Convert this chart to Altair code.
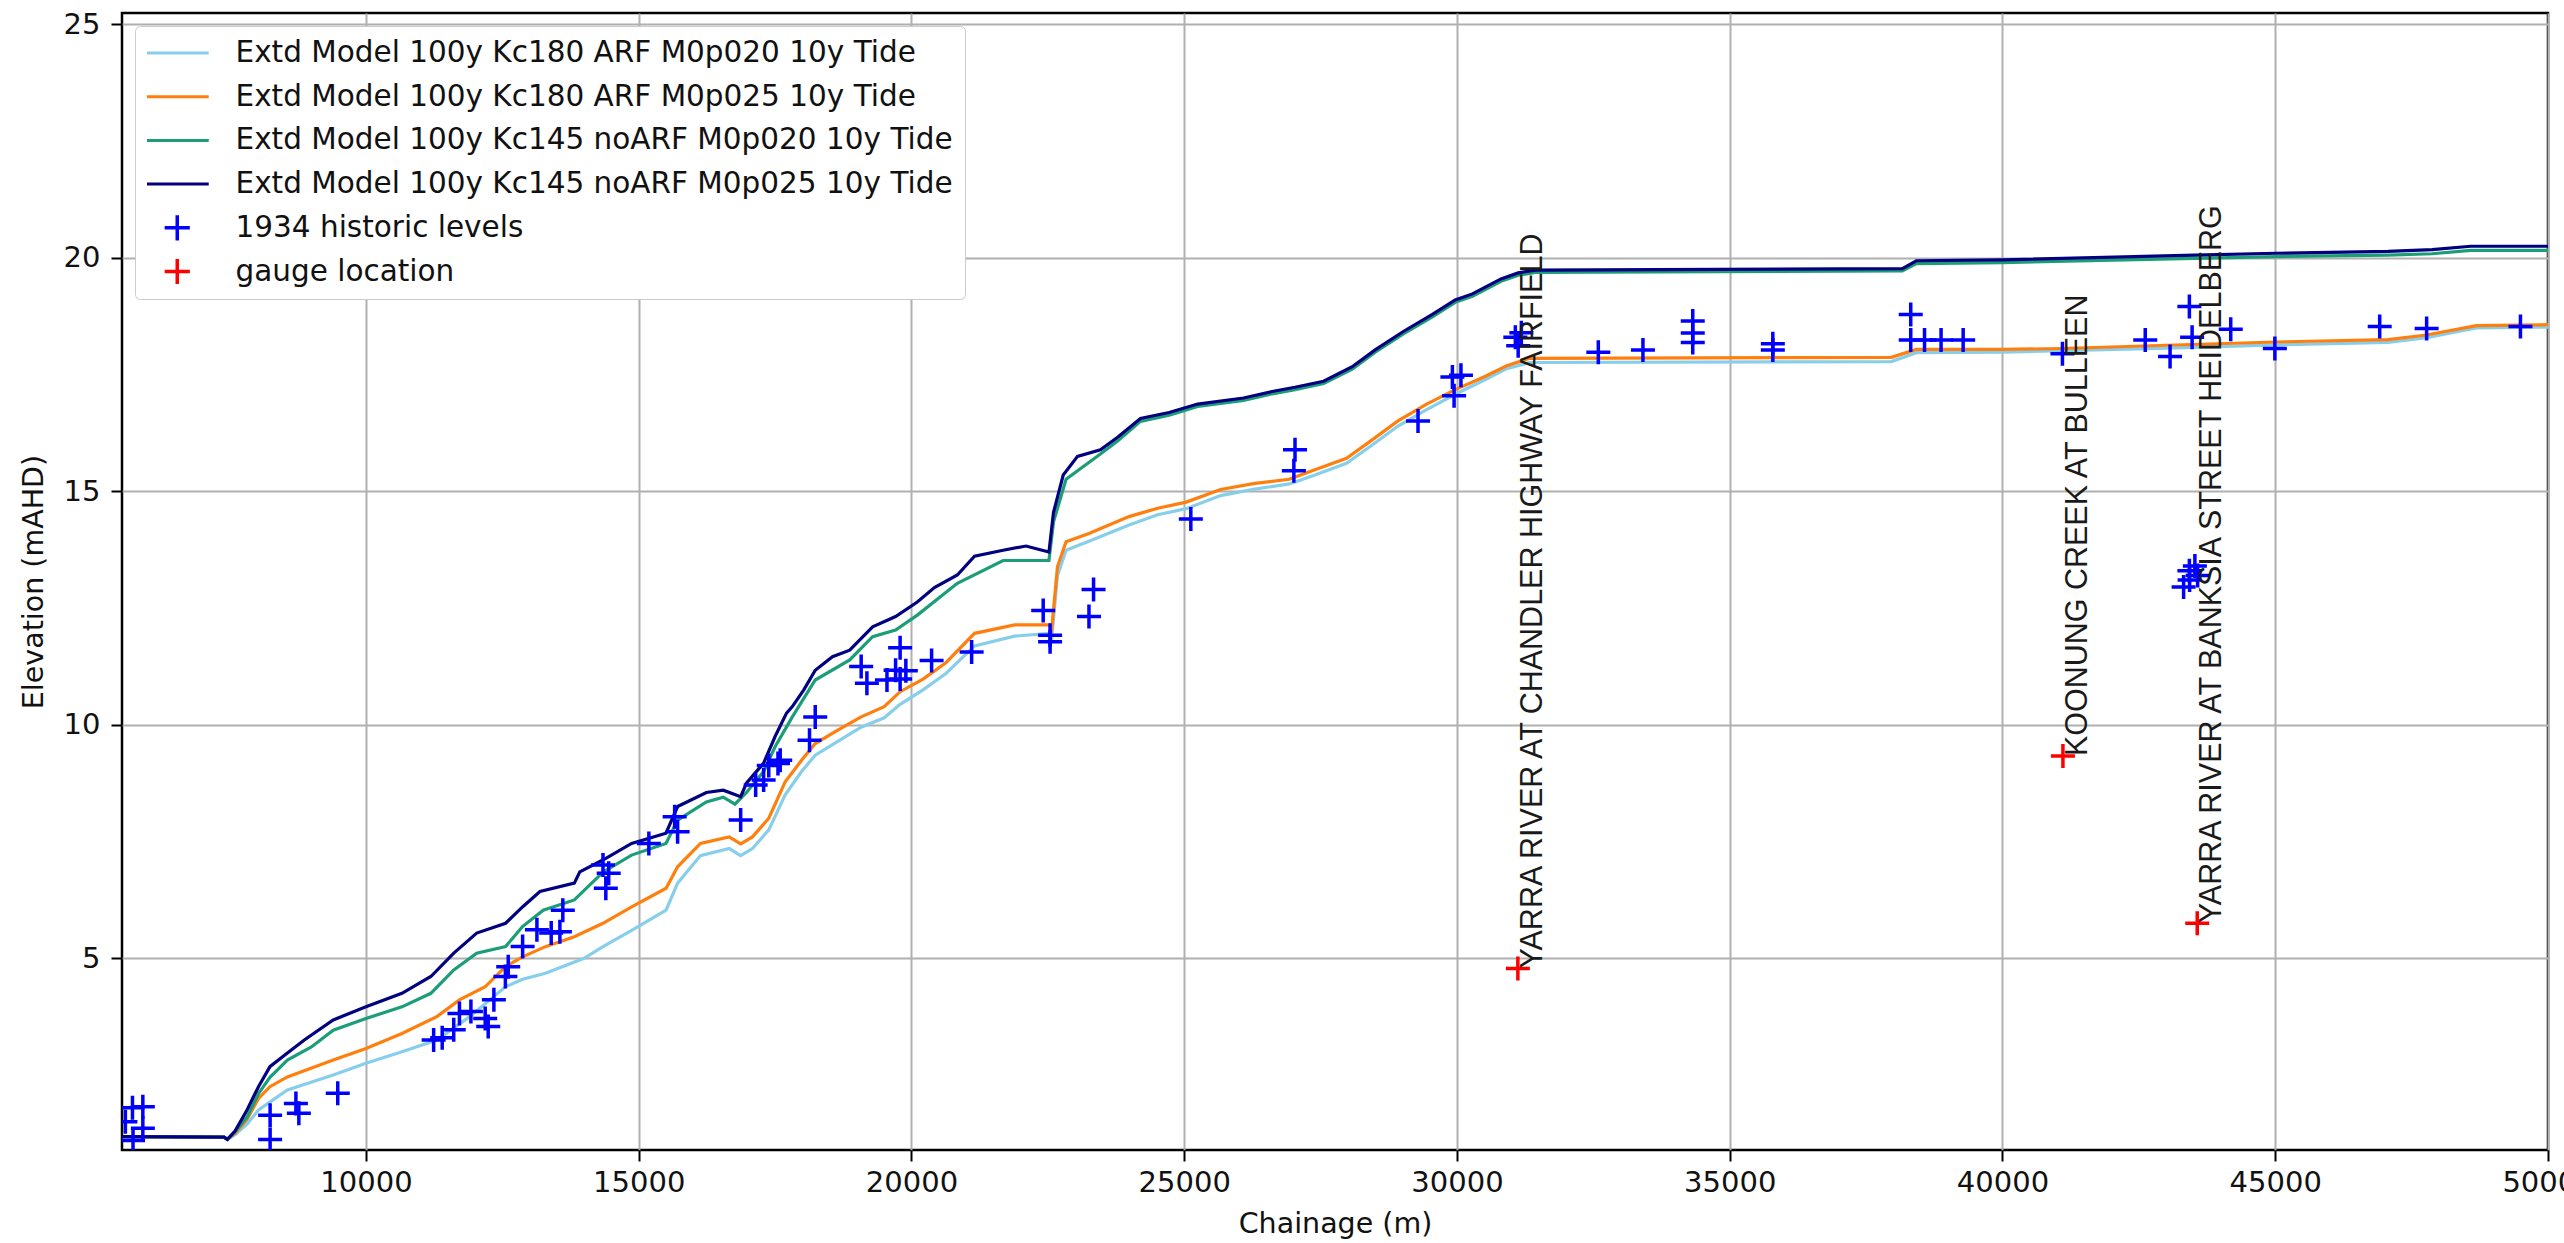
import altair as alt
import pandas as pd

S1 = "Extd Model 100y Kc180 ARF M0p020 10y Tide"
S2 = "Extd Model 100y Kc180 ARF M0p025 10y Tide"
S3 = "Extd Model 100y Kc145 noARF M0p020 10y Tide"
S4 = "Extd Model 100y Kc145 noARF M0p025 10y Tide"
H = "1934 historic levels"
G = "gauge location"

SERIES = [S1, S2, S3, S4, H, G]
COLORS = ["#87ceeb", "#ff7f0e", "#1b9e77", "#000080", "#0000ff", "#ff0000"]

# Kc145 noARF M0p025 (navy)
x_s4 = [5528, 7400, 7460, 7600, 7820, 8030, 8240, 8560, 8870, 9400, 10000, 10660, 11190, 11610,
        12030, 12560, 12870, 13190, 13820, 13920, 14350, 14870, 15500, 15713, 16240, 16550, 16870,
        16975, 17290, 17500, 17710, 17816, 18026, 18236, 18552, 18868, 19288, 19709, 20107, 20421,
        20841, 21156, 21680, 22100, 22520, 22604, 22782, 23044, 23464, 23779, 24198, 24723, 25247,
        26087, 26611, 27031, 27555, 28080, 28500, 29024, 29549, 29968, 30283, 30807, 31122, 31437,
        38166, 38420, 40000, 43527, 45014, 47067, 47876, 48584, 50000]
y_s4 = [1.18, 1.17, 1.12, 1.30, 1.75, 2.25, 2.68, 2.97, 3.25, 3.68, 3.96, 4.25, 4.61, 5.11,
        5.54, 5.75, 6.10, 6.43, 6.61, 6.85, 7.11, 7.46, 7.68, 8.25, 8.55, 8.60, 8.46,
        8.75, 9.18, 9.75, 10.25, 10.39, 10.75, 11.17, 11.46, 11.60, 12.10, 12.32, 12.63, 12.94,
        13.21, 13.61, 13.74, 13.83, 13.70, 14.55, 15.35, 15.75, 15.89, 16.16, 16.56, 16.69, 16.87,
        17.00, 17.14, 17.23, 17.36, 17.67, 18.03, 18.43, 18.79, 19.10, 19.23, 19.55, 19.68, 19.74,
        19.77, 19.94, 19.96, 20.06, 20.10, 20.14, 20.18, 20.25, 20.25]

# Kc145 noARF M0p020 (green)
x_s3 = [5528, 7400, 7460, 7600, 7820, 8030, 8240, 8560, 9000, 9400, 10000, 10660, 11190, 11610,
        12030, 12560, 12870, 13250, 13820, 14350, 14870, 15500, 15713, 16240, 16550, 16764, 16975,
        17290, 17500, 17816, 18236, 18868, 19288, 19709, 20107, 20841, 21680, 22520, 22604, 22834,
        23464, 23779, 24198, 24723, 25247, 26087, 26611, 27031, 27555, 28080, 28500, 29024, 29549,
        29968, 30283, 30807, 31122, 31437, 38166, 38420, 40000, 43527, 45014, 47067, 47876, 48584, 50000]
y_s3 = [1.18, 1.17, 1.12, 1.28, 1.60, 2.10, 2.45, 2.82, 3.10, 3.46, 3.71, 3.96, 4.25, 4.75,
        5.11, 5.25, 5.68, 6.03, 6.25, 6.85, 7.21, 7.46, 7.96, 8.35, 8.45, 8.30, 8.55,
        9.00, 9.53, 10.17, 10.96, 11.39, 11.89, 12.03, 12.35, 13.03, 13.52, 13.52, 14.35, 15.26,
        15.80, 16.08, 16.50, 16.63, 16.82, 16.95, 17.09, 17.18, 17.31, 17.62, 17.98, 18.38, 18.74,
        19.05, 19.18, 19.50, 19.63, 19.69, 19.72, 19.88, 19.90, 19.99, 20.03, 20.06, 20.09, 20.16, 20.16]

# Kc180 ARF M0p025 (orange)
x_s2 = [5528, 7400, 7460, 7600, 7820, 8030, 8240, 8560, 9400, 10000, 10660, 11300, 11714, 12186,
        12556, 12872, 13290, 13819, 14345, 14871, 15502, 15713, 16132, 16658, 16869, 17085, 17385,
        17685, 17985, 18236, 18657, 19078, 19500, 19792, 20212, 20631, 21156, 21890, 22520, 22570,
        22677, 22834, 23254, 23988, 24513, 25037, 25667, 26296, 26926, 27346, 27975, 28395, 28919,
        29444, 29968, 30493, 30913, 31332, 37964, 38420, 40000, 41100, 43021, 45014, 47067, 47775,
        48685, 50000]
y_s2 = [1.18, 1.17, 1.12, 1.25, 1.55, 2.00, 2.25, 2.46, 2.82, 3.07, 3.39, 3.75, 4.11, 4.39,
        4.82, 5.03, 5.25, 5.46, 5.75, 6.10, 6.50, 6.96, 7.46, 7.60, 7.45, 7.60, 8.00,
        8.78, 9.24, 9.60, 9.89, 10.17, 10.39, 10.71, 10.98, 11.33, 11.96, 12.14, 12.14, 12.05,
        13.39, 13.92, 14.10, 14.46, 14.64, 14.77, 15.04, 15.17, 15.26, 15.44, 15.71, 16.06, 16.51,
        16.87, 17.18, 17.45, 17.69, 17.85, 17.87, 18.04, 18.04, 18.06, 18.13, 18.20, 18.25, 18.35,
        18.55, 18.57]

# Kc180 ARF M0p020 (light blue)
x_s1 = [5528, 7400, 7460, 7600, 7820, 8030, 8560, 9400, 10000, 10660, 11300, 11900, 12556, 12872,
        13290, 14000, 14345, 14871, 15502, 15713, 16132, 16658, 16869, 17085, 17385, 17685, 17985,
        18236, 18657, 19078, 19500, 19792, 20212, 20631, 21156, 21890, 22520, 22570, 22677, 22834,
        23254, 23988, 24513, 25037, 25667, 26296, 26926, 27346, 27975, 28395, 28919, 29444, 29968,
        30493, 30913, 31332, 37964, 38420, 40000, 43021, 45014, 47067, 47775, 48685, 50000]
y_s1 = [1.18, 1.17, 1.12, 1.22, 1.45, 1.75, 2.18, 2.50, 2.75, 3.00, 3.25, 3.75, 4.39, 4.55,
        4.68, 5.00, 5.25, 5.60, 6.03, 6.61, 7.20, 7.35, 7.20, 7.35, 7.75, 8.50, 9.00,
        9.35, 9.65, 9.95, 10.15, 10.44, 10.75, 11.10, 11.69, 11.90, 11.96, 11.85, 13.20, 13.74,
        13.93, 14.28, 14.50, 14.63, 14.91, 15.05, 15.16, 15.33, 15.60, 15.95, 16.40, 16.75, 17.08,
        17.38, 17.63, 17.76, 17.78, 17.97, 17.98, 18.07, 18.14, 18.19, 18.29, 18.50, 18.52]

# 1934 historic levels
x_hist = [5590, 5720, 5910, 5910, 5730, 8243, 8243, 8716, 8770, 9483,
          11241, 11398, 11609, 11714, 11924, 12186, 12241, 12345, 12556, 12608, 12872, 13134, 13396,
          13555, 13609, 14345, 14397, 14450, 15186, 15659, 15713, 16869, 17144, 17384, 17594,
          17290, 17553, 18236, 18131, 19078, 19183, 19551, 19709, 19792, 19897, 19792, 20369, 21103,
          22415, 22541, 22541, 23254, 23338, 25121, 27031, 27010, 29286, 29916, 30073, 29947,
          31070, 31122, 31180, 32591, 33409, 34322, 34322, 34322, 35790, 35790,
          38318, 38318, 38571, 38874, 39279, 41099, 42617, 43072, 43426, 43476, 44184, 44993,
          46915, 47775, 49495, 43320, 43426, 43527, 43430, 43577]
y_hist = [1.50, 1.80, 1.82, 1.36, 1.10, 1.64, 1.12, 1.89, 1.68, 2.11,
          3.25, 3.30, 3.47, 3.82, 3.86, 3.71, 3.54, 4.11, 4.61, 4.82, 5.25, 5.61, 5.54,
          5.57, 6.03, 7.00, 6.50, 6.82, 7.46, 8.03, 7.71, 7.96, 8.71, 9.13, 9.24,
          8.82, 9.17, 10.17, 9.67, 11.25, 10.89, 10.96, 11.17, 11.65, 11.16, 10.98, 11.38, 11.56,
          12.45, 11.92, 11.78, 12.32, 12.90, 14.41, 15.89, 15.44, 16.51, 17.45, 17.49, 17.05,
          18.30, 18.12, 18.40, 17.98, 18.03, 18.65, 18.39, 18.19, 18.16, 18.03,
          18.79, 18.24, 18.24, 18.24, 18.24, 17.95, 18.24, 17.89, 18.96, 18.30, 18.47, 18.06,
          18.53, 18.49, 18.53, 12.95, 13.30, 13.40, 13.10, 13.20]

# gauge locations
x_gauge = [31116, 41108, 43570]
y_gauge = [4.78, 9.33, 5.75]
gauge_labels = ["YARRA RIVER AT CHANDLER HIGHWAY FAIRFIELD",
                "KOONUNG CREEK AT BULLEEN",
                "YARRA RIVER AT BANKSIA STREET HEIDELBERG"]

X_TICKS = [10000, 15000, 20000, 25000, 30000, 35000, 40000, 45000, 50000]
Y_TICKS = [5, 10, 15, 20, 25]

CROSS = "M-1,0L1,0M0,-1L0,1"
CROSS_SMALL = "M-0.4,0L0.4,0M0,-0.4L0,0.4"


def line_df(xs, ys, name):
    return pd.DataFrame({"chainage": xs, "elev": ys, "series": name})


df_hist = pd.DataFrame({"chainage": x_hist, "elev": y_hist, "series": H})
df_gauge = pd.DataFrame({"chainage": x_gauge, "elev": y_gauge, "series": G, "label": gauge_labels})

x_enc = alt.X(
    "chainage:Q",
    scale=alt.Scale(domain=[5528, 50000], nice=False, zero=False),
    axis=alt.Axis(
        values=X_TICKS, format="d", title="Chainage (m)", labelFlush=False,
        labelFont="DejaVu Sans", labelFontSize=29, labelColor="#111111", labelPadding=7,
        tickColor="black", tickWidth=2, tickSize=11, domain=False,
        grid=True, gridColor="#b0b0b0", gridWidth=2,
        titleFont="DejaVu Sans", titleFontSize=28.5, titleFontWeight="normal", titleColor="#111111",
        titleY=82, titleBaseline="alphabetic",
    ),
)
y_enc = alt.Y(
    "elev:Q",
    scale=alt.Scale(domain=[0.894, 25.246], nice=False, zero=False),
    axis=alt.Axis(
        values=Y_TICKS, title="Elevation (mAHD)", labelFlush=False,
        labelFont="DejaVu Sans", labelFontSize=29, labelColor="#111111", labelPadding=11,
        tickColor="black", tickWidth=2, tickSize=11, domain=False,
        grid=True, gridColor="#b0b0b0", gridWidth=2,
        titleFont="DejaVu Sans", titleFontSize=28.5, titleFontWeight="normal", titleColor="#111111",
        titleX=-89, titleBaseline="middle",
    ),
)

cond = "(datum.value == '1934 historic levels' || datum.value == 'gauge location')"
color_enc = alt.Color(
    "series:N",
    scale=alt.Scale(domain=SERIES, range=COLORS),
    legend=alt.Legend(
        title=None, orient="top-left", offset=13, padding=12,
        fillColor="white", strokeColor="#cccccc", cornerRadius=5,
        labelFont="DejaVu Sans", labelFontSize=29.5, labelColor="#111111", labelLimit=0,
        labelOffset=43.5, symbolOffset=15.5, symbolSize=3969,
        symbolType={"expr": cond + " ? '" + CROSS_SMALL + "' : 'stroke'"},
        symbolStrokeWidth={"expr": cond + " ? 3.5 : 3"},
        symbolOpacity=1, clipHeight=30, rowPadding=13.7,
    ),
)

layers = []
for xs, ys, name in [(x_s1, y_s1, S1), (x_s2, y_s2, S2), (x_s3, y_s3, S3), (x_s4, y_s4, S4)]:
    layers.append(
        alt.Chart(line_df(xs, ys, name)).mark_line(strokeWidth=3.2, clip=True).encode(
            x=x_enc, y=y_enc, color=color_enc
        )
    )

layers.append(
    alt.Chart(df_hist).mark_point(shape=CROSS, filled=False, size=576, strokeWidth=3.5,
                                  opacity=1, clip=True).encode(x=x_enc, y=y_enc, color=color_enc)
)
layers.append(
    alt.Chart(df_gauge).mark_point(shape=CROSS, filled=False, size=576, strokeWidth=3.5,
                                   opacity=1, clip=True).encode(x=x_enc, y=y_enc, color=color_enc)
)
layers.append(
    alt.Chart(df_gauge).mark_text(angle=270, align="left", baseline="top", font="Liberation Sans",
                                  fontSize=30.5, color="#1a1a1a").encode(x=x_enc, y=y_enc, text="label:N")
)

chart = alt.layer(*layers).properties(
    width=2426, height=1137,
    autosize=alt.AutoSizeParams(type="none"),
    padding={"left": 122, "top": 13, "right": 16, "bottom": 93},
    background="white",
).configure_view(stroke="black", strokeWidth=2.5)

chart.save("out.html", embed_options={"renderer": "svg", "actions": False})
